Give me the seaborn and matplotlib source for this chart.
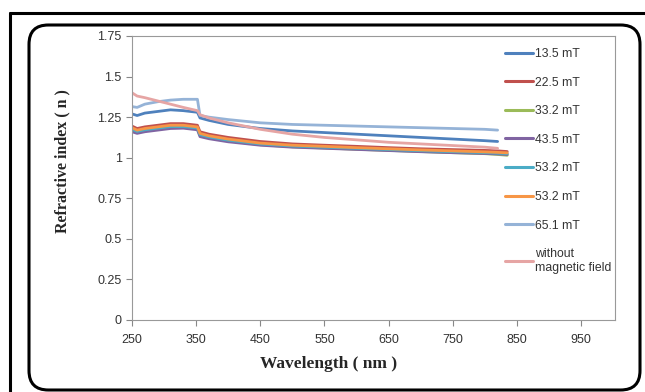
import numpy as np
import pandas as pd
import matplotlib
matplotlib.use("Agg")
import matplotlib.pyplot as plt
import seaborn as sns
from matplotlib.patches import FancyBboxPatch
from matplotlib.lines import Line2D

nan = np.nan
wavelength = [250, 258, 270, 290, 310, 330, 352, 356, 370, 400, 450, 500, 550, 600, 650, 700, 750, 800, 820, 835]

n_13_5 = [1.27, 1.26, 1.275, 1.285, 1.295, 1.29, 1.28, 1.245, 1.23, 1.205, 1.18, 1.165, 1.155, 1.145, 1.135, 1.125, 1.115, 1.105, 1.1, nan]
n_22_5 = [1.195, 1.18, 1.19, 1.2, 1.21, 1.21, 1.2, 1.16, 1.145, 1.125, 1.1, 1.085, 1.077, 1.07, 1.062, 1.055, 1.05, 1.045, 1.042, 1.038]
n_33_2 = [1.17, 1.158, 1.168, 1.178, 1.188, 1.188, 1.178, 1.138, 1.124, 1.104, 1.08, 1.067, 1.06, 1.052, 1.045, 1.038, 1.031, 1.025, 1.02, 1.015]
n_43_5 = [1.16, 1.15, 1.16, 1.17, 1.18, 1.182, 1.172, 1.13, 1.117, 1.098, 1.077, 1.065, 1.058, 1.051, 1.044, 1.037, 1.031, 1.026, 1.023, 1.02]
n_53_2a = [1.175, 1.162, 1.172, 1.182, 1.192, 1.192, 1.183, 1.142, 1.128, 1.108, 1.085, 1.072, 1.065, 1.058, 1.05, 1.043, 1.037, 1.031, 1.028, 1.025]
n_53_2b = [1.185, 1.17, 1.18, 1.19, 1.2, 1.2, 1.19, 1.15, 1.135, 1.115, 1.09, 1.077, 1.07, 1.062, 1.055, 1.048, 1.042, 1.036, 1.033, 1.03]
n_65_1 = [1.315, 1.31, 1.33, 1.345, 1.355, 1.36, 1.36, 1.26, 1.25, 1.235, 1.215, 1.205, 1.2, 1.195, 1.19, 1.185, 1.18, 1.175, 1.17, nan]
n_without = [1.4, 1.38, 1.37, 1.35, 1.33, 1.31, 1.29, 1.265, 1.245, 1.215, 1.175, 1.145, 1.125, 1.11, 1.095, 1.085, 1.075, 1.065, 1.058, nan]

series_labels = ["13.5 mT", "22.5 mT", "33.2 mT", "43.5 mT", "53.2 mT ", "53.2 mT", "65.1 mT", "without\nmagnetic field"]
series_values = [n_13_5, n_22_5, n_33_2, n_43_5, n_53_2a, n_53_2b, n_65_1, n_without]
colors = ["#4F81BD", "#C0504D", "#9BBB59", "#8064A2", "#4BACC6", "#F79646", "#95B3D7", "#E6A5A4"]

x_ticks = [250, 350, 450, 550, 650, 750, 850, 950]
y_ticks = [0, 0.25, 0.5, 0.75, 1, 1.25, 1.5, 1.75]
y_tick_labels = ["0", "0.25", "0.5", "0.75", "1", "1.25", "1.5", "1.75"]

rows = []
for lab, vals in zip(series_labels, series_values):
    for w, v in zip(wavelength, vals):
        rows.append({"wl": w, "n": v, "series": lab})
df = pd.DataFrame(rows).dropna()

sns.set_style("white")
plt.rcParams["font.family"] = ["Liberation Sans", "DejaVu Sans"]

fig = plt.figure(figsize=(6.45, 3.92), dpi=100)
ax = fig.add_axes([132/645, 1-320/392, (615-132)/645, (320-36)/392])

sns.lineplot(data=df, x="wl", y="n", hue="series", hue_order=series_labels,
             palette=dict(zip(series_labels, colors)), linewidth=2.0, ax=ax,
             legend=False, estimator=None, sort=False)

ax.set_xlim(250, 1003)
ax.set_ylim(0, 1.75)
ax.set_xticks(x_ticks)
ax.set_xticklabels([str(t) for t in x_ticks])
ax.set_yticks(y_ticks)
ax.set_yticklabels(y_tick_labels)
ax.tick_params(axis="both", labelsize=9, colors="#333333", length=4, width=0.8,
               direction="out", bottom=True, left=True, color="#888888")
ax.tick_params(axis="x", pad=6)
for s in ax.spines.values():
    s.set_color("#999999")
    s.set_linewidth(0.8)
ax.set_xlabel("")
ax.set_ylabel("")

handles = [Line2D([0], [0], color=c, lw=2.2) for c in colors]
leg = ax.legend(handles, series_labels, loc="upper left", bbox_to_anchor=((500-132)/483, 1-(43-36)/284),
                frameon=False, fontsize=8.8, handlelength=2.3, handletextpad=0.2,
                labelspacing=1.36, borderaxespad=0)
for t in leg.get_texts():
    t.set_color("#333333")

fig.text(62/645, 1-161/392, "Refractive index ( n )", rotation=90, ha="center", va="center",
         fontsize=11.5, fontweight="bold", family=["Liberation Serif", "DejaVu Serif"])
fig.text(329/645, 1-364/392, "Wavelength ( nm )", ha="center", va="center",
         fontsize=12.5, fontweight="bold", family=["Liberation Serif", "DejaVu Serif"])

# outer frame lines
fig.add_artist(Line2D([10/645, 1.0], [1-13/392, 1-13/392], color="black", lw=2.2, transform=fig.transFigure))
fig.add_artist(Line2D([10/645, 10/645], [0, 1-13/392], color="black", lw=2.2, transform=fig.transFigure))
# rounded box
box = FancyBboxPatch((29/645, 1-390/392), (640-29)/645, (390-25)/392,
                     boxstyle="round,pad=0,rounding_size=0.03", transform=fig.transFigure,
                     fill=False, edgecolor="black", lw=2.2, mutation_aspect=645/392)
fig.add_artist(box)

fig.savefig("out.png", dpi=100)
